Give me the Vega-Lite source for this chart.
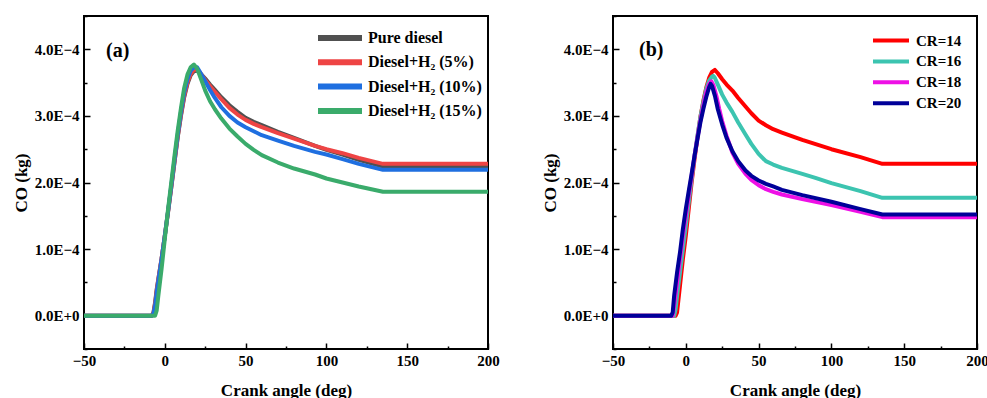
{
  "$schema": "https://vega.github.io/schema/vega-lite/v6.json",
  "padding": {"left": 11, "top": 8, "right": 0, "bottom": 0},
  "background": "white",
  "bounds": "flush",
  "spacing": 125,
  "datasets": {
    "a": [
      {"s":"Pure diesel","x":-50,"y":0},{"s":"Pure diesel","x":-8,"y":0},{"s":"Pure diesel","x":-7,"y":0.05e-4},{"s":"Pure diesel","x":-6,"y":0.2e-4},{"s":"Pure diesel","x":-5,"y":0.4e-4},{"s":"Pure diesel","x":-4,"y":0.55e-4},{"s":"Pure diesel","x":-2,"y":0.85e-4},{"s":"Pure diesel","x":0,"y":1.2e-4},{"s":"Pure diesel","x":2,"y":1.55e-4},{"s":"Pure diesel","x":4,"y":1.92e-4},{"s":"Pure diesel","x":6,"y":2.3e-4},{"s":"Pure diesel","x":8,"y":2.68e-4},{"s":"Pure diesel","x":10,"y":3.0e-4},{"s":"Pure diesel","x":12,"y":3.28e-4},{"s":"Pure diesel","x":14,"y":3.48e-4},{"s":"Pure diesel","x":16,"y":3.61e-4},{"s":"Pure diesel","x":18,"y":3.67e-4},{"s":"Pure diesel","x":20,"y":3.68e-4},{"s":"Pure diesel","x":22,"y":3.64e-4},{"s":"Pure diesel","x":25,"y":3.56e-4},{"s":"Pure diesel","x":28,"y":3.47e-4},{"s":"Pure diesel","x":31,"y":3.39e-4},{"s":"Pure diesel","x":35,"y":3.28e-4},{"s":"Pure diesel","x":40,"y":3.16e-4},{"s":"Pure diesel","x":45,"y":3.06e-4},{"s":"Pure diesel","x":50,"y":2.97e-4},{"s":"Pure diesel","x":55,"y":2.91e-4},{"s":"Pure diesel","x":60,"y":2.86e-4},{"s":"Pure diesel","x":70,"y":2.76e-4},{"s":"Pure diesel","x":80,"y":2.67e-4},{"s":"Pure diesel","x":93,"y":2.55e-4},{"s":"Pure diesel","x":100,"y":2.49e-4},{"s":"Pure diesel","x":110,"y":2.42e-4},{"s":"Pure diesel","x":120,"y":2.34e-4},{"s":"Pure diesel","x":135,"y":2.24e-4},{"s":"Pure diesel","x":200,"y":2.24e-4},
      {"s":"Diesel+H₂ (5%)","x":-50,"y":0},{"s":"Diesel+H₂ (5%)","x":-8,"y":0},{"s":"Diesel+H₂ (5%)","x":-7,"y":0.04e-4},{"s":"Diesel+H₂ (5%)","x":-6,"y":0.18e-4},{"s":"Diesel+H₂ (5%)","x":-5,"y":0.38e-4},{"s":"Diesel+H₂ (5%)","x":-4,"y":0.55e-4},{"s":"Diesel+H₂ (5%)","x":-2,"y":0.86e-4},{"s":"Diesel+H₂ (5%)","x":0,"y":1.2e-4},{"s":"Diesel+H₂ (5%)","x":2,"y":1.56e-4},{"s":"Diesel+H₂ (5%)","x":4,"y":1.93e-4},{"s":"Diesel+H₂ (5%)","x":6,"y":2.31e-4},{"s":"Diesel+H₂ (5%)","x":8,"y":2.69e-4},{"s":"Diesel+H₂ (5%)","x":10,"y":3.02e-4},{"s":"Diesel+H₂ (5%)","x":12,"y":3.3e-4},{"s":"Diesel+H₂ (5%)","x":14,"y":3.5e-4},{"s":"Diesel+H₂ (5%)","x":16,"y":3.63e-4},{"s":"Diesel+H₂ (5%)","x":18,"y":3.69e-4},{"s":"Diesel+H₂ (5%)","x":20,"y":3.7e-4},{"s":"Diesel+H₂ (5%)","x":22,"y":3.64e-4},{"s":"Diesel+H₂ (5%)","x":25,"y":3.54e-4},{"s":"Diesel+H₂ (5%)","x":28,"y":3.45e-4},{"s":"Diesel+H₂ (5%)","x":31,"y":3.36e-4},{"s":"Diesel+H₂ (5%)","x":35,"y":3.25e-4},{"s":"Diesel+H₂ (5%)","x":40,"y":3.12e-4},{"s":"Diesel+H₂ (5%)","x":45,"y":3.02e-4},{"s":"Diesel+H₂ (5%)","x":50,"y":2.94e-4},{"s":"Diesel+H₂ (5%)","x":55,"y":2.88e-4},{"s":"Diesel+H₂ (5%)","x":60,"y":2.83e-4},{"s":"Diesel+H₂ (5%)","x":70,"y":2.74e-4},{"s":"Diesel+H₂ (5%)","x":80,"y":2.66e-4},{"s":"Diesel+H₂ (5%)","x":93,"y":2.55e-4},{"s":"Diesel+H₂ (5%)","x":100,"y":2.5e-4},{"s":"Diesel+H₂ (5%)","x":110,"y":2.44e-4},{"s":"Diesel+H₂ (5%)","x":120,"y":2.37e-4},{"s":"Diesel+H₂ (5%)","x":135,"y":2.28e-4},{"s":"Diesel+H₂ (5%)","x":200,"y":2.28e-4},
      {"s":"Diesel+H₂ (10%)","x":-50,"y":0},{"s":"Diesel+H₂ (10%)","x":-8,"y":0},{"s":"Diesel+H₂ (10%)","x":-7,"y":0.03e-4},{"s":"Diesel+H₂ (10%)","x":-6,"y":0.15e-4},{"s":"Diesel+H₂ (10%)","x":-5,"y":0.35e-4},{"s":"Diesel+H₂ (10%)","x":-4,"y":0.52e-4},{"s":"Diesel+H₂ (10%)","x":-2,"y":0.85e-4},{"s":"Diesel+H₂ (10%)","x":0,"y":1.2e-4},{"s":"Diesel+H₂ (10%)","x":2,"y":1.57e-4},{"s":"Diesel+H₂ (10%)","x":4,"y":1.95e-4},{"s":"Diesel+H₂ (10%)","x":6,"y":2.34e-4},{"s":"Diesel+H₂ (10%)","x":8,"y":2.72e-4},{"s":"Diesel+H₂ (10%)","x":10,"y":3.06e-4},{"s":"Diesel+H₂ (10%)","x":12,"y":3.35e-4},{"s":"Diesel+H₂ (10%)","x":14,"y":3.55e-4},{"s":"Diesel+H₂ (10%)","x":16,"y":3.68e-4},{"s":"Diesel+H₂ (10%)","x":18,"y":3.73e-4},{"s":"Diesel+H₂ (10%)","x":20,"y":3.73e-4},{"s":"Diesel+H₂ (10%)","x":22,"y":3.65e-4},{"s":"Diesel+H₂ (10%)","x":25,"y":3.52e-4},{"s":"Diesel+H₂ (10%)","x":28,"y":3.39e-4},{"s":"Diesel+H₂ (10%)","x":31,"y":3.27e-4},{"s":"Diesel+H₂ (10%)","x":35,"y":3.13e-4},{"s":"Diesel+H₂ (10%)","x":40,"y":3.0e-4},{"s":"Diesel+H₂ (10%)","x":45,"y":2.9e-4},{"s":"Diesel+H₂ (10%)","x":50,"y":2.83e-4},{"s":"Diesel+H₂ (10%)","x":55,"y":2.77e-4},{"s":"Diesel+H₂ (10%)","x":60,"y":2.71e-4},{"s":"Diesel+H₂ (10%)","x":70,"y":2.63e-4},{"s":"Diesel+H₂ (10%)","x":80,"y":2.55e-4},{"s":"Diesel+H₂ (10%)","x":93,"y":2.46e-4},{"s":"Diesel+H₂ (10%)","x":100,"y":2.42e-4},{"s":"Diesel+H₂ (10%)","x":110,"y":2.35e-4},{"s":"Diesel+H₂ (10%)","x":120,"y":2.28e-4},{"s":"Diesel+H₂ (10%)","x":135,"y":2.19e-4},{"s":"Diesel+H₂ (10%)","x":200,"y":2.19e-4},
      {"s":"Diesel+H₂ (15%)","x":-50,"y":0},{"s":"Diesel+H₂ (15%)","x":-6,"y":0},{"s":"Diesel+H₂ (15%)","x":-5,"y":0.08e-4},{"s":"Diesel+H₂ (15%)","x":-4,"y":0.3e-4},{"s":"Diesel+H₂ (15%)","x":-2,"y":0.7e-4},{"s":"Diesel+H₂ (15%)","x":0,"y":1.15e-4},{"s":"Diesel+H₂ (15%)","x":2,"y":1.6e-4},{"s":"Diesel+H₂ (15%)","x":4,"y":2.0e-4},{"s":"Diesel+H₂ (15%)","x":6,"y":2.4e-4},{"s":"Diesel+H₂ (15%)","x":8,"y":2.78e-4},{"s":"Diesel+H₂ (15%)","x":10,"y":3.12e-4},{"s":"Diesel+H₂ (15%)","x":12,"y":3.42e-4},{"s":"Diesel+H₂ (15%)","x":14,"y":3.62e-4},{"s":"Diesel+H₂ (15%)","x":16,"y":3.73e-4},{"s":"Diesel+H₂ (15%)","x":18,"y":3.77e-4},{"s":"Diesel+H₂ (15%)","x":20,"y":3.71e-4},{"s":"Diesel+H₂ (15%)","x":22,"y":3.58e-4},{"s":"Diesel+H₂ (15%)","x":25,"y":3.38e-4},{"s":"Diesel+H₂ (15%)","x":28,"y":3.22e-4},{"s":"Diesel+H₂ (15%)","x":31,"y":3.1e-4},{"s":"Diesel+H₂ (15%)","x":35,"y":2.96e-4},{"s":"Diesel+H₂ (15%)","x":40,"y":2.81e-4},{"s":"Diesel+H₂ (15%)","x":45,"y":2.69e-4},{"s":"Diesel+H₂ (15%)","x":50,"y":2.58e-4},{"s":"Diesel+H₂ (15%)","x":55,"y":2.49e-4},{"s":"Diesel+H₂ (15%)","x":60,"y":2.41e-4},{"s":"Diesel+H₂ (15%)","x":70,"y":2.3e-4},{"s":"Diesel+H₂ (15%)","x":80,"y":2.21e-4},{"s":"Diesel+H₂ (15%)","x":93,"y":2.12e-4},{"s":"Diesel+H₂ (15%)","x":100,"y":2.06e-4},{"s":"Diesel+H₂ (15%)","x":110,"y":2.0e-4},{"s":"Diesel+H₂ (15%)","x":120,"y":1.94e-4},{"s":"Diesel+H₂ (15%)","x":135,"y":1.86e-4},{"s":"Diesel+H₂ (15%)","x":200,"y":1.86e-4}
    ],
    "b": [
      {"s":"CR=14","x":-50,"y":0},{"s":"CR=14","x":-7,"y":0},{"s":"CR=14","x":-6,"y":0.05e-4},{"s":"CR=14","x":-5,"y":0.25e-4},{"s":"CR=14","x":-4,"y":0.45e-4},{"s":"CR=14","x":-2,"y":0.85e-4},{"s":"CR=14","x":0,"y":1.2e-4},{"s":"CR=14","x":2,"y":1.6e-4},{"s":"CR=14","x":4,"y":2.0e-4},{"s":"CR=14","x":6,"y":2.35e-4},{"s":"CR=14","x":8,"y":2.68e-4},{"s":"CR=14","x":10,"y":2.98e-4},{"s":"CR=14","x":12,"y":3.22e-4},{"s":"CR=14","x":14,"y":3.42e-4},{"s":"CR=14","x":16,"y":3.57e-4},{"s":"CR=14","x":18,"y":3.66e-4},{"s":"CR=14","x":20,"y":3.69e-4},{"s":"CR=14","x":22,"y":3.64e-4},{"s":"CR=14","x":25,"y":3.55e-4},{"s":"CR=14","x":28,"y":3.47e-4},{"s":"CR=14","x":32,"y":3.38e-4},{"s":"CR=14","x":36,"y":3.27e-4},{"s":"CR=14","x":41,"y":3.14e-4},{"s":"CR=14","x":45,"y":3.04e-4},{"s":"CR=14","x":50,"y":2.93e-4},{"s":"CR=14","x":55,"y":2.86e-4},{"s":"CR=14","x":60,"y":2.8e-4},{"s":"CR=14","x":66,"y":2.75e-4},{"s":"CR=14","x":80,"y":2.64e-4},{"s":"CR=14","x":100,"y":2.5e-4},{"s":"CR=14","x":120,"y":2.38e-4},{"s":"CR=14","x":135,"y":2.28e-4},{"s":"CR=14","x":200,"y":2.28e-4},
      {"s":"CR=16","x":-50,"y":0},{"s":"CR=16","x":-8,"y":0},{"s":"CR=16","x":-7,"y":0.1e-4},{"s":"CR=16","x":-6,"y":0.3e-4},{"s":"CR=16","x":-4,"y":0.65e-4},{"s":"CR=16","x":-2,"y":1.0e-4},{"s":"CR=16","x":0,"y":1.35e-4},{"s":"CR=16","x":2,"y":1.7e-4},{"s":"CR=16","x":4,"y":2.05e-4},{"s":"CR=16","x":6,"y":2.4e-4},{"s":"CR=16","x":8,"y":2.7e-4},{"s":"CR=16","x":10,"y":2.98e-4},{"s":"CR=16","x":12,"y":3.2e-4},{"s":"CR=16","x":14,"y":3.4e-4},{"s":"CR=16","x":16,"y":3.53e-4},{"s":"CR=16","x":18,"y":3.59e-4},{"s":"CR=16","x":19,"y":3.6e-4},{"s":"CR=16","x":20,"y":3.57e-4},{"s":"CR=16","x":22,"y":3.47e-4},{"s":"CR=16","x":25,"y":3.32e-4},{"s":"CR=16","x":28,"y":3.2e-4},{"s":"CR=16","x":32,"y":3.06e-4},{"s":"CR=16","x":36,"y":2.9e-4},{"s":"CR=16","x":41,"y":2.72e-4},{"s":"CR=16","x":45,"y":2.58e-4},{"s":"CR=16","x":50,"y":2.43e-4},{"s":"CR=16","x":55,"y":2.32e-4},{"s":"CR=16","x":60,"y":2.27e-4},{"s":"CR=16","x":66,"y":2.22e-4},{"s":"CR=16","x":80,"y":2.13e-4},{"s":"CR=16","x":89,"y":2.07e-4},{"s":"CR=16","x":100,"y":1.99e-4},{"s":"CR=16","x":120,"y":1.87e-4},{"s":"CR=16","x":135,"y":1.77e-4},{"s":"CR=16","x":200,"y":1.77e-4},
      {"s":"CR=18","x":-50,"y":0},{"s":"CR=18","x":-9,"y":0},{"s":"CR=18","x":-8,"y":0.15e-4},{"s":"CR=18","x":-6,"y":0.5e-4},{"s":"CR=18","x":-4,"y":0.85e-4},{"s":"CR=18","x":-2,"y":1.2e-4},{"s":"CR=18","x":0,"y":1.5e-4},{"s":"CR=18","x":2,"y":1.8e-4},{"s":"CR=18","x":4,"y":2.1e-4},{"s":"CR=18","x":6,"y":2.4e-4},{"s":"CR=18","x":8,"y":2.67e-4},{"s":"CR=18","x":10,"y":2.93e-4},{"s":"CR=18","x":12,"y":3.15e-4},{"s":"CR=18","x":14,"y":3.35e-4},{"s":"CR=18","x":16,"y":3.48e-4},{"s":"CR=18","x":17.5,"y":3.52e-4},{"s":"CR=18","x":19,"y":3.46e-4},{"s":"CR=18","x":21,"y":3.3e-4},{"s":"CR=18","x":23,"y":3.1e-4},{"s":"CR=18","x":25,"y":2.92e-4},{"s":"CR=18","x":28,"y":2.7e-4},{"s":"CR=18","x":32,"y":2.45e-4},{"s":"CR=18","x":36,"y":2.28e-4},{"s":"CR=18","x":41,"y":2.13e-4},{"s":"CR=18","x":45,"y":2.04e-4},{"s":"CR=18","x":50,"y":1.96e-4},{"s":"CR=18","x":55,"y":1.9e-4},{"s":"CR=18","x":60,"y":1.86e-4},{"s":"CR=18","x":66,"y":1.82e-4},{"s":"CR=18","x":80,"y":1.75e-4},{"s":"CR=18","x":100,"y":1.66e-4},{"s":"CR=18","x":120,"y":1.56e-4},{"s":"CR=18","x":135,"y":1.48e-4},{"s":"CR=18","x":200,"y":1.48e-4},
      {"s":"CR=20","x":-50,"y":0},{"s":"CR=20","x":-10,"y":0},{"s":"CR=20","x":-9,"y":0.05e-4},{"s":"CR=20","x":-8,"y":0.3e-4},{"s":"CR=20","x":-6,"y":0.65e-4},{"s":"CR=20","x":-4,"y":0.95e-4},{"s":"CR=20","x":-2,"y":1.3e-4},{"s":"CR=20","x":0,"y":1.6e-4},{"s":"CR=20","x":2,"y":1.87e-4},{"s":"CR=20","x":4,"y":2.13e-4},{"s":"CR=20","x":6,"y":2.4e-4},{"s":"CR=20","x":8,"y":2.65e-4},{"s":"CR=20","x":10,"y":2.9e-4},{"s":"CR=20","x":12,"y":3.1e-4},{"s":"CR=20","x":14,"y":3.28e-4},{"s":"CR=20","x":16,"y":3.43e-4},{"s":"CR=20","x":17,"y":3.48e-4},{"s":"CR=20","x":18,"y":3.45e-4},{"s":"CR=20","x":20,"y":3.3e-4},{"s":"CR=20","x":22,"y":3.1e-4},{"s":"CR=20","x":25,"y":2.87e-4},{"s":"CR=20","x":28,"y":2.67e-4},{"s":"CR=20","x":32,"y":2.47e-4},{"s":"CR=20","x":36,"y":2.32e-4},{"s":"CR=20","x":41,"y":2.18e-4},{"s":"CR=20","x":45,"y":2.1e-4},{"s":"CR=20","x":50,"y":2.03e-4},{"s":"CR=20","x":55,"y":1.98e-4},{"s":"CR=20","x":60,"y":1.94e-4},{"s":"CR=20","x":66,"y":1.89e-4},{"s":"CR=20","x":80,"y":1.81e-4},{"s":"CR=20","x":100,"y":1.71e-4},{"s":"CR=20","x":120,"y":1.6e-4},{"s":"CR=20","x":135,"y":1.52e-4},{"s":"CR=20","x":200,"y":1.52e-4}
    ]
  },
  "hconcat": [
    {
      "width": 404,
      "height": 333,
      "title": {"text": "(a)", "anchor": "start", "frame": "group", "orient": "top", "offset": 0, "dx": 22, "dy": 62, "baseline": "middle", "font": "Liberation Serif", "fontWeight": "bold", "fontSize": 20, "color": "black"},
      "data": {"name": "a"},
      "mark": {"type": "line", "strokeWidth": 4, "interpolate": "linear", "strokeJoin": "round"},
      "encoding": {
        "x": {"field": "x", "type": "quantitative",
          "scale": {"domain": [-50, 200], "nice": false, "zero": false},
          "axis": {"title": "Crank angle (deg)", "values": [-50,-25,0,25,50,75,100,125,150,175,200],
            "tickDash": {"condition": {"test": "datum.value % 50 !== 0", "value": [3, 30]}, "value": [10, 0]},
            "labelExpr": "datum.value % 50 === 0 ? datum.label : ''",
            "labelPadding": 10, "titlePadding": 14}},
        "y": {"field": "y", "type": "quantitative",
          "scale": {"domain": [-0.00005, 0.00045], "nice": false, "zero": false},
          "axis": {"title": "CO (kg)", "values": [-0.00005,0,0.00005,0.0001,0.00015,0.0002,0.00025,0.0003,0.00035,0.0004,0.00045],
            "tickDash": {"condition": {"test": "abs(datum.value*10000 - round(datum.value*10000)) > 0.01", "value": [3, 30]}, "value": [10, 0]},
            "labelExpr": "abs(datum.value*10000 - round(datum.value*10000)) > 0.01 ? '' : (abs(datum.value) < 0.000001 ? '0.0E+0' : format(datum.value*10000, '.1f') + 'E−4')",
            "labelPadding": 11, "titlePadding": 4}},
        "color": {"field": "s", "type": "nominal",
          "scale": {"domain": ["Pure diesel","Diesel+H₂ (5%)","Diesel+H₂ (10%)","Diesel+H₂ (15%)"],
                    "range": ["#505050","#ee4444","#1f6fe0","#3aab6b"]},
          "legend": {"title": null, "orient": "none", "legendX": 248, "legendY": 14, "padding": 0,
            "symbolType": "M-4.4,0H4.4", "symbolSize": 100, "symbolStrokeWidth": 6,
            "labelFont": "Liberation Serif", "labelFontWeight": "bold", "labelFontSize": 16, "labelColor": "black",
            "labelOffset": 20, "rowPadding": 0.3, "labelLimit": 300}}
      }
    },
    {
      "width": 364,
      "height": 333,
      "title": {"text": "(b)", "anchor": "start", "frame": "group", "orient": "top", "offset": 0, "dx": 26, "dy": 61, "baseline": "middle", "font": "Liberation Serif", "fontWeight": "bold", "fontSize": 20, "color": "black"},
      "data": {"name": "b"},
      "mark": {"type": "line", "strokeWidth": 4, "interpolate": "linear", "strokeJoin": "round"},
      "encoding": {
        "x": {"field": "x", "type": "quantitative",
          "scale": {"domain": [-50, 200], "nice": false, "zero": false},
          "axis": {"title": "Crank angle (deg)", "values": [-50,-25,0,25,50,75,100,125,150,175,200],
            "tickDash": {"condition": {"test": "datum.value % 50 !== 0", "value": [3, 30]}, "value": [10, 0]},
            "labelExpr": "datum.value % 50 === 0 ? datum.label : ''",
            "labelPadding": 10, "titlePadding": 14}},
        "y": {"field": "y", "type": "quantitative",
          "scale": {"domain": [-0.00005, 0.00045], "nice": false, "zero": false},
          "axis": {"title": "CO (kg)", "values": [-0.00005,0,0.00005,0.0001,0.00015,0.0002,0.00025,0.0003,0.00035,0.0004,0.00045],
            "tickDash": {"condition": {"test": "abs(datum.value*10000 - round(datum.value*10000)) > 0.01", "value": [3, 30]}, "value": [10, 0]},
            "labelExpr": "abs(datum.value*10000 - round(datum.value*10000)) > 0.01 ? '' : (abs(datum.value) < 0.000001 ? '0.0E+0' : format(datum.value*10000, '.1f') + 'E−4')",
            "labelPadding": 11, "titlePadding": 4}},
        "color": {"field": "s", "type": "nominal",
          "scale": {"domain": ["CR=14","CR=16","CR=18","CR=20"],
                    "range": ["#ff0000","#3cc4b0","#ee10e6","#000099"]},
          "legend": {"title": null, "orient": "none", "legendX": 270.5, "legendY": 17, "padding": 0,
            "symbolType": "M-3.6,0H3.6", "symbolSize": 100, "symbolStrokeWidth": 4,
            "labelFont": "Liberation Serif", "labelFontWeight": "bold", "labelFontSize": 15, "labelColor": "black",
            "labelOffset": 17.5, "rowPadding": 3.9}}
      }
    }
  ],
  "resolve": {"scale": {"color": "independent"}, "legend": {"color": "independent"}},
  "config": {
    "view": {"stroke": "black", "strokeWidth": 2},
    "font": "Liberation Serif",
    "axis": {
      "domain": false, "grid": false, "ticks": true, "tickSize": -6,
      "tickColor": "black", "tickWidth": 1.5,
      "labelFont": "Liberation Serif", "labelFontWeight": "bold", "labelFontSize": 15, "labelColor": "black",
      "labelFlush": false, "labelOverlap": false, "labelBound": false,
      "titleFont": "Liberation Serif", "titleFontWeight": "bold", "titleFontSize": 17, "titleColor": "black"
    }
  }
}
